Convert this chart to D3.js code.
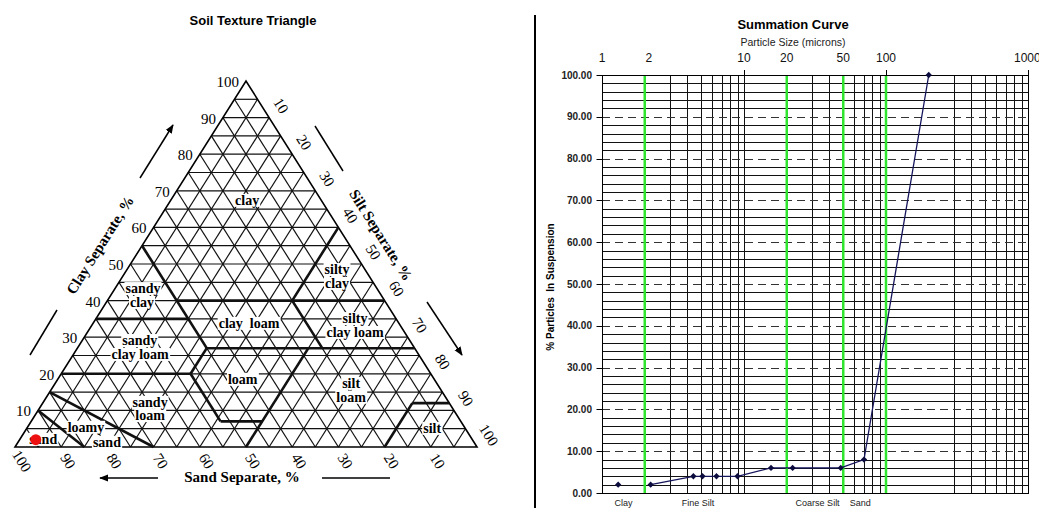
<!DOCTYPE html>
<html>
<head>
<meta charset="utf-8">
<script src="https://cdn.jsdelivr.net/npm/d3@7"></script>
<style>
  body { margin: 0; background: #fff; }
  svg { display: block; }
</style>
</head>
<body>
<svg id="chart" width="1039" height="508"></svg>
<script>
// ---------- soil texture triangle ----------
// compositions are [sand, silt, clay] in %
var gridStep = 5
var clayTicks = [10, 20, 30, 40, 50, 60, 70, 80, 90, 100]
var siltTicks = [10, 20, 30, 40, 50, 60, 70, 80, 90, 100]
var sandTicks = [100, 90, 80, 70, 60, 50, 40, 30, 20, 10]

// texture class boundaries (USDA)
var classLines = [
  [[45, 15, 40], [0, 60, 40]],
  [[45, 0, 55], [45, 28, 27]],
  [[65, 0, 35], [45, 20, 35]],
  [[0, 40, 60], [20, 40, 40]],
  [[20, 40, 40], [20, 53, 27]],
  [[45, 28, 27], [0, 73, 27]],
  [[45, 28, 27], [52, 28, 20]],
  [[80, 0, 20], [52, 28, 20]],
  [[52, 28, 20], [52, 41, 7]],
  [[52, 41, 7], [43, 50, 7]],
  [[23, 50, 27], [50, 50, 0]],
  [[85, 0, 15], [70, 30, 0]],
  [[90, 0, 10], [85, 15, 0]],
  [[20, 80, 0], [8, 80, 12]],
  [[8, 80, 12], [0, 88, 12]]
]

var classWords = ["clay", "silty", "clay", "sandy", "clay", "clay  loam", "silty", "clay loam",
  "sandy", "clay loam", "loam", "silt", "loam", "sandy", "loam", "loamy", "sand", "sand", "silt"]
var classWordAt = [
  [16, 16.5, 67.5], [6, 45.4, 48.6], [7.9, 47.3, 44.8], [50.6, 6, 43.4], [52.7, 7.7, 39.6],
  [32.4, 33.7, 33.9], [8.8, 56, 35.2], [10.7, 57.9, 31.4], [58.4, 12.4, 29.2], [60.2, 14.4, 25.4],
  [41.4, 40, 18.6], [18.5, 64, 17.5], [20.4, 65.9, 13.7], [64.6, 23.1, 12.3], [66.4, 24.9, 8.7],
  [81.9, 12.6, 5.5], [79.4, 19.2, 1.4], [92.8, 5, 2.2], [7.1, 87.7, 5.2]
]

var sample = [94.5, 3.5, 2]

// ---------- summation curve ----------
var sizeLabels = [1, 2, 10, 20, 50, 100, 1000]
var pctTicks = [0, 10, 20, 30, 40, 50, 60, 70, 80, 90, 100]
var gridSizes = [2, 3, 4, 5, 6, 7, 8, 9, 10, 20, 30, 40, 50, 60, 70, 80, 90, 100, 300, 400, 500, 600, 700, 800, 900]
var classSizes = [2, 20, 50, 100]
var sizes = [1.3, 2.2, 4.4, 5.1, 6.4, 9, 15.5, 22, 48, 70, 200]
var percents = [2, 2, 4, 4, 4, 4, 6, 6, 6, 8, 100]
var curveStart = 1
var bandNames = ["Clay", "Fine Silt", "Coarse Silt", "Sand"]
var bandAt = [1.42, 4.75, 33, 66]

var svg = d3.select("#chart")
var serif = '"Liberation Serif", "Times New Roman", serif'
var sans = '"Liberation Sans", Arial, sans-serif'

svg.append("defs").append("marker")
  .attr("id", "head").attr("viewBox", "0 0 10 10")
  .attr("refX", 9).attr("refY", 5)
  .attr("markerWidth", 9).attr("markerHeight", 9)
  .attr("markerUnits", "userSpaceOnUse")
  .attr("orient", "auto")
  .append("path").attr("d", "M0,1 L10,5 L0,9 Z").attr("fill", "#000")

svg.append("text")
  .attr("x", 253).attr("y", 25)
  .attr("text-anchor", "middle")
  .style("font", "bold 13px " + sans)
  .text("Soil Texture Triangle")

svg.append("line")
  .attr("x1", 535).attr("x2", 535).attr("y1", 15).attr("y2", 508)
  .attr("stroke", "#000").attr("stroke-width", 2)

var tx = d3.scaleLinear().domain([0, 100]).range([15, 477])
var ty = d3.scaleLinear().domain([0, 100]).range([447, 81])
function tp(p) { return [tx(p[1] + p[2] / 2), ty(p[2])] }
var ang = Math.atan2(ty(0) - ty(100), tx(100) - tx(50)) * 180 / Math.PI

var steps = d3.range(gridStep, 100, gridStep)
var gridSegs = []
steps.forEach(function(v) {
  gridSegs.push([[100 - v, 0, v], [0, 100 - v, v]])
  gridSegs.push([[v, 100 - v, 0], [v, 0, 100 - v]])
  gridSegs.push([[100 - v, v, 0], [0, v, 100 - v]])
})

var tri = svg.append("g")

function segs(sel, data, w) {
  sel.selectAll(null).data(data).enter().append("line")
    .attr("x1", function(d) { return tp(d[0])[0] })
    .attr("y1", function(d) { return tp(d[0])[1] })
    .attr("x2", function(d) { return tp(d[1])[0] })
    .attr("y2", function(d) { return tp(d[1])[1] })
    .attr("stroke", "#111").attr("stroke-width", w)
}
segs(tri, gridSegs, 1.2)

tri.append("path")
  .attr("d", d3.line()([[100, 0, 0], [0, 100, 0], [0, 0, 100]].map(tp)) + "Z")
  .attr("fill", "none").attr("stroke", "#000").attr("stroke-width", 1.6)

segs(tri, classLines, 2.6)

// class names: white boxes first, words on top
var words = classWords.map(function(w, i) { return { w: w, p: classWordAt[i] } })
var boxes = tri.append("g")
var texts = tri.append("g").selectAll(null).data(words).enter().append("text")
  .attr("x", function(d) { return tp(d.p)[0] })
  .attr("y", function(d) { return tp(d.p)[1] })
  .attr("dy", "0.35em")
  .attr("text-anchor", "middle")
  .style("font", "bold 14px " + serif)
  .style("white-space", "pre")
  .text(function(d) { return d.w })
texts.each(function() {
  var b = this.getBBox()
  boxes.append("rect")
    .attr("x", b.x - 1).attr("y", b.y + 1)
    .attr("width", b.width + 2).attr("height", b.height - 2)
    .attr("fill", "#fff")
})

// axis numbers
tri.selectAll(null).data(clayTicks).enter().append("text")
  .attr("x", function(c) { return tp([100 - c, 0, c])[0] - 7 })
  .attr("y", function(c) { return tp([100 - c, 0, c])[1] + 6 })
  .attr("text-anchor", "end")
  .style("font", "15px " + serif)
  .text(function(c) { return c })

tri.selectAll(null).data(siltTicks).enter().append("text")
  .attr("transform", function(v) {
    var p = tp([0, v, 100 - v])
    return "translate(" + (p[0] + 12) + "," + (p[1] - 12) + ") rotate(" + ang + ")"
  })
  .attr("text-anchor", "middle").attr("dy", "0.35em")
  .style("font", "15px " + serif)
  .text(function(v) { return v })

tri.selectAll(null).data(sandTicks).enter().append("text")
  .attr("transform", function(s) {
    var p = tp([s, 100 - s, 0])
    return "translate(" + (p[0] + 7) + "," + (p[1] + 14) + ") rotate(" + ang + ")"
  })
  .attr("text-anchor", "middle").attr("dy", "0.35em")
  .style("font", "15px " + serif)
  .text(function(s) { return s })

// axis titles and arrows
tri.append("text")
  .attr("transform", "translate(100,245) rotate(" + (-ang) + ")")
  .attr("text-anchor", "middle").attr("dy", "0.35em")
  .style("font", "bold 15px " + serif)
  .text("Clay Separate, %")
tri.append("text")
  .attr("transform", "translate(381,235) rotate(" + ang + ")")
  .attr("text-anchor", "middle").attr("dy", "0.35em")
  .style("font", "bold 15px " + serif)
  .text("Silt Separate, %")
tri.append("text")
  .attr("x", 242).attr("y", 477)
  .attr("text-anchor", "middle").attr("dy", "0.35em")
  .style("font", "bold 15px " + serif)
  .text("Sand Separate, %")

var deco = [
  [140, 178, 173, 125, true], [30, 355, 57, 310, false],
  [315, 126, 343, 171, false], [427, 302, 462, 355, true],
  [158, 478, 100, 478, true], [322, 478, 390, 478, false]
]
tri.selectAll(null).data(deco).enter().append("line")
  .attr("x1", function(d) { return d[0] }).attr("y1", function(d) { return d[1] })
  .attr("x2", function(d) { return d[2] }).attr("y2", function(d) { return d[3] })
  .attr("stroke", "#000").attr("stroke-width", 1.5)
  .attr("marker-end", function(d) { return d[4] ? "url(#head)" : null })

tri.append("circle")
  .attr("cx", tp(sample)[0]).attr("cy", tp(sample)[1])
  .attr("r", 5.5).attr("fill", "#ee1111")

// ---------- summation curve ----------
var x = d3.scaleLog().domain([1, 1000]).range([602, 1028])
var y = d3.scaleLinear().domain([0, 100]).range([493, 75])
function cx(v) { return Math.round(x(v)) + 0.5 }
function cy(v) { return Math.round(y(v)) + 0.5 }

var plot = svg.append("g")

plot.selectAll(null).data(d3.range(2, 100, 2).filter(function(v) { return v % 10 })).enter()
  .append("line")
  .attr("x1", x(1)).attr("x2", x(1000))
  .attr("y1", cy).attr("y2", cy)
  .attr("stroke", "#111").attr("stroke-width", 1)

plot.selectAll(null).data(gridSizes).enter().append("line")
  .attr("x1", cx).attr("x2", cx)
  .attr("y1", y(100)).attr("y2", y(0))
  .attr("stroke", "#111").attr("stroke-width", 1)

plot.selectAll(null).data(pctTicks.slice(1, -1)).enter().append("line")
  .attr("x1", x(1)).attr("x2", x(1000))
  .attr("y1", cy).attr("y2", cy)
  .attr("stroke", "#333").attr("stroke-width", 1)
  .attr("stroke-dasharray", "8,5")

plot.selectAll(null).data(classSizes).enter().append("line")
  .attr("x1", function(v) { return x(v) }).attr("x2", function(v) { return x(v) })
  .attr("y1", y(100)).attr("y2", y(0))
  .attr("stroke", "#2fe52f").attr("stroke-width", 2.5)

plot.append("rect")
  .attr("x", cx(1)).attr("y", cy(100))
  .attr("width", cx(1000) - cx(1)).attr("height", cy(0) - cy(100))
  .attr("fill", "none").attr("stroke", "#000")

// y ticks and labels
plot.selectAll(null).data(pctTicks).enter().append("line")
  .attr("x1", cx(1) - 6).attr("x2", cx(1))
  .attr("y1", cy).attr("y2", cy)
  .attr("stroke", "#000")
plot.selectAll(null).data(pctTicks).enter().append("text")
  .attr("x", 592).attr("y", function(v) { return y(v) + 3.5 })
  .attr("text-anchor", "end")
  .attr("fill", "#222")
  .style("font", "bold 10px " + sans)
  .text(function(v) { return v.toFixed(2) })

// top ticks and labels
plot.selectAll(null).data([10, 100, 1000]).enter().append("line")
  .attr("x1", cx).attr("x2", cx)
  .attr("y1", y(100) - 5).attr("y2", y(100))
  .attr("stroke", "#000")
plot.selectAll(null).data(sizeLabels).enter().append("text")
  .attr("x", function(v) { return x(v) + (v === 2 ? 4 : 0) })
  .attr("y", 62)
  .attr("text-anchor", function(v) { return v === 1000 ? "start" : "middle" })
  .attr("dx", function(v) { return v === 1000 ? -14 : 0 })
  .attr("fill", "#111")
  .style("font", "12px " + sans)
  .text(function(v) { return v })

svg.append("text")
  .attr("x", 793).attr("y", 29)
  .attr("text-anchor", "middle")
  .style("font", "bold 13px " + sans)
  .text("Summation Curve")
svg.append("text")
  .attr("x", 793).attr("y", 46)
  .attr("text-anchor", "middle")
  .attr("fill", "#222")
  .style("font", "10.5px " + sans)
  .text("Particle Size (microns)")
svg.append("text")
  .attr("transform", "translate(554,287) rotate(-90)")
  .attr("text-anchor", "middle")
  .style("font", "bold 10px " + sans)
  .style("white-space", "pre")
  .text("% Particles  In Suspension")

plot.selectAll(null).data(bandNames).enter().append("text")
  .attr("x", function(d, i) { return x(bandAt[i]) })
  .attr("y", 506)
  .attr("text-anchor", "middle")
  .attr("fill", "#222")
  .style("font", "9px " + sans)
  .text(function(d) { return d })

// data
var pts = sizes.map(function(s, i) { return [s, percents[i]] })
plot.append("path")
  .attr("d", d3.line().x(function(d) { return x(d[0]) }).y(function(d) { return y(d[1]) })(pts.slice(curveStart)))
  .attr("fill", "none").attr("stroke", "#15155c").attr("stroke-width", 1.3)
plot.selectAll(null).data(pts).enter().append("path")
  .attr("d", d3.symbol(d3.symbolSquare, 20))
  .attr("transform", function(d) { return "translate(" + x(d[0]) + "," + y(d[1]) + ") rotate(45)" })
  .attr("fill", "#0b0b3d")
</script>
</body>
</html>
